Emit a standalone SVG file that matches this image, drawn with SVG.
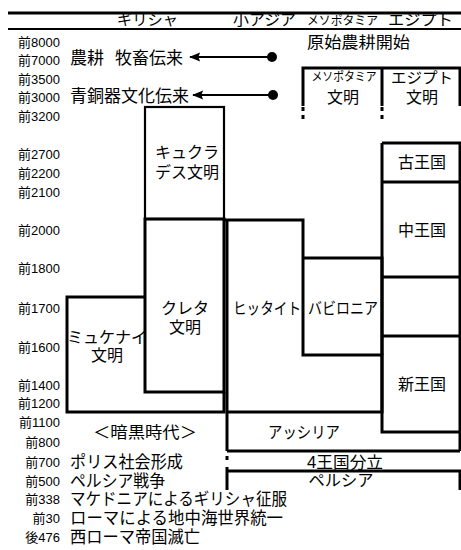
<svg xmlns="http://www.w3.org/2000/svg" width="461" height="550" viewBox="0 0 461 550">
<defs>
<style>
text{font-family:"Liberation Sans","Noto Sans CJK JP",sans-serif;fill:#000}
.lab{font-size:13px;text-anchor:end}
.big{font-size:17px}
.mid{font-size:16px;text-anchor:middle}
.hd{font-size:15px}
.ln{stroke:#000;stroke-width:3;fill:none}
.th{stroke:#000;stroke-width:2.2;fill:none}
</style>
<marker id="ah" viewBox="0 0 12 10" refX="1" refY="5" markerWidth="5.5" markerHeight="4.2" orient="auto" markerUnits="strokeWidth">
<path d="M12,0 L0,5 L12,10 L10,5 Z" fill="#000"/>
</marker>
</defs>
<rect width="461" height="550" fill="#fff"/>

<g id="header">
<line x1="8" y1="13" x2="461" y2="13" class="ln" stroke-width="2.5"/>
<line x1="8" y1="29" x2="461" y2="29" class="th"/>
<text x="117" y="25" class="hd" textLength="61" lengthAdjust="spacingAndGlyphs">ギリシャ</text>
<text x="233" y="25" class="hd" textLength="63" lengthAdjust="spacingAndGlyphs">小アジア</text>
<text x="307" y="25" font-size="12.5" textLength="71" lengthAdjust="spacingAndGlyphs">メソポタミア</text>
<text x="388" y="25" class="hd" textLength="65" lengthAdjust="spacingAndGlyphs">エジプト</text>
</g>

<g id="years">
<text x="60" y="47" class="lab">前8000</text>
<text x="60" y="65" class="lab">前7000</text>
<text x="60" y="84" class="lab">前3500</text>
<text x="60" y="102" class="lab">前3000</text>
<text x="60" y="121" class="lab">前3200</text>
<text x="60" y="159" class="lab">前2700</text>
<text x="60" y="178" class="lab">前2200</text>
<text x="60" y="197" class="lab">前2100</text>
<text x="60" y="235" class="lab">前2000</text>
<text x="60" y="273" class="lab">前1800</text>
<text x="60" y="313" class="lab">前1700</text>
<text x="60" y="352" class="lab">前1600</text>
<text x="60" y="390" class="lab">前1400</text>
<text x="60" y="408" class="lab">前1200</text>
<text x="60" y="427" class="lab">前1100</text>
<text x="60" y="447" class="lab">前800</text>
<text x="60" y="467" class="lab">前700</text>
<text x="60" y="486" class="lab">前500</text>
<text x="60" y="504" class="lab">前338</text>
<text x="60" y="523" class="lab">前30</text>
<text x="60" y="542" class="lab">後476</text>
</g>

<g id="events">
<text x="70" y="64" class="big">農耕<tspan x="115">牧畜伝来</tspan></text>
<text x="70" y="102" class="big">青銅器文化伝来</text>
<text x="307" y="47.5" font-size="16" textLength="103" lengthAdjust="spacingAndGlyphs">原始農耕開始</text>
<text x="145" y="438" class="mid" textLength="104" lengthAdjust="spacingAndGlyphs">＜暗黒時代＞</text>
<text x="70" y="468" class="big" textLength="113" lengthAdjust="spacingAndGlyphs">ポリス社会形成</text>
<text x="70" y="487" class="big" textLength="95" lengthAdjust="spacingAndGlyphs">ペルシア戦争</text>
<text x="70" y="505" class="big" textLength="217" lengthAdjust="spacingAndGlyphs">マケドニアによるギリシャ征服</text>
<text x="70" y="524" class="big" textLength="213" lengthAdjust="spacingAndGlyphs">ローマによる地中海世界統一</text>
<text x="70" y="543" class="big" textLength="130" lengthAdjust="spacingAndGlyphs">西ローマ帝国滅亡</text>
</g>

<g id="connectors">
<line x1="190" y1="57" x2="272" y2="57" class="th" marker-start="url(#ah)"/>
<circle cx="272" cy="57" r="5" fill="#000"/>
<line x1="193" y1="95" x2="273" y2="95" class="th" marker-start="url(#ah)"/>
<circle cx="273" cy="95" r="5" fill="#000"/>
</g>

<g id="civ-box">
<path d="M303,106 V68 H460 V106 M382,68 V106" class="ln"/>
<path d="M303,107 V111 M303,115 V119 M382,107 V111 M382,115 V119" class="ln"/>
<text x="344" y="81" font-size="12" text-anchor="middle" textLength="65" lengthAdjust="spacingAndGlyphs">メソポタミア</text>
<text x="343" y="103" class="mid" font-size="17">文明</text>
<text x="422" y="83" font-size="15" text-anchor="middle" textLength="62" lengthAdjust="spacingAndGlyphs">エジプト</text>
<text x="422" y="103" class="mid" font-size="17">文明</text>
</g>

<g id="kyukurades">
<rect x="145" y="107" width="79" height="112" class="th" stroke-width="2.5"/>
<text x="187" y="158" class="mid">キュクラ</text>
<text x="187" y="178" class="mid">デス文明</text>
</g>

<g id="crete">
<path d="M145,219 V392 H224 V219 Z" class="ln"/>
<text x="185" y="314" class="mid">クレタ</text>
<text x="185" y="333" class="mid">文明</text>
</g>

<g id="mycenae">
<path d="M145,297 H67 V412 H224 V392" class="ln"/>
<text x="107" y="343" class="mid">ミュケナイ</text>
<text x="107" y="361" class="mid">文明</text>
</g>

<g id="hittite">
<path d="M224,220 H303 V355 H382 V412 H227 M227,220 V451" class="ln"/>
<text x="267" y="314" class="mid" font-size="15" textLength="68" lengthAdjust="spacingAndGlyphs">ヒッタイト</text>
</g>

<g id="babylonia">
<path d="M303,258 H382 V355" class="ln"/>
<text x="343" y="314" class="mid" font-size="15" textLength="70" lengthAdjust="spacingAndGlyphs">バビロニア</text>
</g>

<g id="egypt">
<path d="M382,143 H460 V451 M382,143 V432 H460 M382,182 H460 M382,277 H460 M382,336 H460" class="ln"/>
<text x="422" y="168" class="mid">古王国</text>
<text x="422" y="236" class="mid">中王国</text>
<text x="422" y="390" class="mid">新王国</text>
</g>

<g id="assyria">
<path d="M227,451 H460" class="ln"/>
<text x="304" y="438" class="mid" textLength="72" lengthAdjust="spacingAndGlyphs">アッシリア</text>
</g>

<g id="four-kingdoms">
<path d="M227,456 V460" class="ln"/>
<text x="345" y="468" class="mid" textLength="76" lengthAdjust="spacingAndGlyphs">4王国分立</text>
</g>

<g id="persia">
<path d="M227,467 V490 M227,471 H460 V490" class="ln"/>
<text x="341" y="486" class="mid" textLength="65" lengthAdjust="spacingAndGlyphs">ペルシア</text>
</g>
</svg>
